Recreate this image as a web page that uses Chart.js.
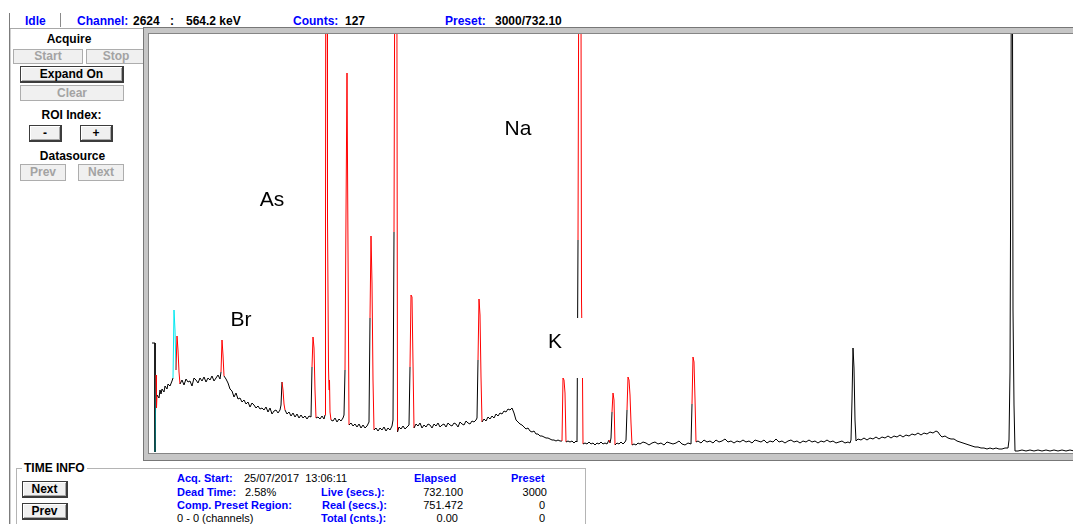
<!DOCTYPE html>
<html>
<head>
<meta charset="utf-8">
<script src="https://cdn.jsdelivr.net/npm/chart.js@4.4.1/dist/chart.umd.min.js"></script>
<style>
  body { margin: 0; width: 1073px; height: 524px; overflow: hidden; background: #fff; position: relative;
         font-family: "Liberation Sans", Arial, sans-serif; }
  .abs { position: absolute; white-space: nowrap; }
  .b12 { font-size: 12px; font-weight: bold; line-height: 14px; }
  .s11 { font-size: 11px; line-height: 13px; }
  .blue { color: #0000ff; font-weight: bold; }
  .btn { position: absolute; box-sizing: border-box; text-align: center; font-size: 12px; font-weight: bold;
         background: #f0f0f0; }
  .on { border: 1px solid #3c3c3c; border-right-width: 2px; border-bottom-width: 2px; color: #000;
        box-shadow: inset 1px 1px #fff, inset -1px -1px #a8a8a8; }
  .off { border: 1px solid #adadad; color: #a3a3a3; }
</style>
</head>
<body>

<!-- status bar -->
<div class="abs" style="left:9px;top:13px;width:1px;height:511px;background:#7c7c7c"></div>
<div class="abs" style="left:10px;top:28px;width:1px;height:496px;background:#cfcfcf"></div>
<div class="abs b12 blue" style="left:25px;top:14px">Idle</div>
<div class="abs" style="left:60px;top:13px;width:1px;height:14px;background:#8a8a8a"></div>
<div class="abs b12 blue" style="left:77px;top:14px">Channel:</div>
<div class="abs b12" style="left:133px;top:14px">2624</div>
<div class="abs b12" style="left:170px;top:14px">:</div>
<div class="abs b12" style="left:186px;top:14px">564.2 keV</div>
<div class="abs b12 blue" style="left:293px;top:14px">Counts:</div>
<div class="abs b12" style="left:345px;top:14px">127</div>
<div class="abs b12 blue" style="left:445px;top:14px">Preset:</div>
<div class="abs b12" style="left:495px;top:14px">3000/732.10</div>

<!-- left panel -->
<div class="abs" style="left:10px;top:28px;width:133px;height:1px;background:#a8a8a8"></div>
<div class="abs b12" style="left:10px;top:32px;width:118px;text-align:center">Acquire</div>
<div class="btn off" style="left:13px;top:49px;width:70px;height:15px;line-height:13px">Start</div>
<div class="btn off" style="left:86px;top:49px;width:60px;height:15px;line-height:13px">Stop</div>
<div class="btn on" style="left:20px;top:66px;width:104px;height:17px;line-height:14px">Expand On</div>
<div class="btn off" style="left:20px;top:85px;width:104px;height:16px;line-height:14px">Clear</div>
<div class="abs b12" style="left:10px;top:108px;width:123px;text-align:center">ROI Index:</div>
<div class="btn on" style="left:29px;top:125px;width:33px;height:17px;line-height:14px">-</div>
<div class="btn on" style="left:80px;top:125px;width:33px;height:17px;line-height:14px">+</div>
<div class="abs b12" style="left:10px;top:149px;width:125px;text-align:center">Datasource</div>
<div class="btn off" style="left:20px;top:164px;width:46px;height:17px;line-height:15px">Prev</div>
<div class="btn off" style="left:78px;top:164px;width:46px;height:17px;line-height:15px">Next</div>

<!-- plot frame -->
<div class="abs" style="left:143px;top:27px;width:1000px;height:434px;box-sizing:border-box;border:1px solid #777;background:#c6c6c6">
  <div class="abs" style="left:4px;top:5px;width:1000px;height:421px;box-sizing:border-box;border:1px solid #858585;background:#fff"></div>
</div>
<canvas id="spectrum" width="1024" height="419" style="position:absolute;left:152px;top:34px"></canvas>

<!-- time info -->
<div class="abs" style="left:16px;top:468px;width:570px;height:70px;box-sizing:border-box;border:1px solid #b4b4b4"></div>
<div class="abs b12" style="left:22px;top:461px;background:#fff;padding:0 2px">TIME INFO</div>
<div class="btn on" style="left:22px;top:481px;width:46px;height:17px;line-height:14px">Next</div>
<div class="btn on" style="left:22px;top:503px;width:46px;height:17px;line-height:14px">Prev</div>

<div class="abs s11 blue" style="left:177px;top:472px">Acq. Start:</div>
<div class="abs s11" style="left:244px;top:472px">25/07/2017&nbsp; 13:06:11</div>
<div class="abs s11 blue" style="left:177px;top:486px">Dead Time:</div>
<div class="abs s11" style="left:245px;top:486px">2.58%</div>
<div class="abs s11 blue" style="left:177px;top:499px">Comp. Preset Region:</div>
<div class="abs s11" style="left:177px;top:512px">0 - 0 (channels)</div>

<div class="abs s11 blue" style="left:414px;top:472px">Elapsed</div>
<div class="abs s11 blue" style="left:511px;top:472px">Preset</div>
<div class="abs s11 blue" style="left:321px;top:486px">Live (secs.):</div>
<div class="abs s11 blue" style="left:322px;top:499px">Real (secs.):</div>
<div class="abs s11 blue" style="left:321px;top:512px">Total (cnts.):</div>
<div class="abs s11" style="left:400px;top:486px;width:63px;text-align:right">732.100</div>
<div class="abs s11" style="left:400px;top:499px;width:63px;text-align:right">751.472</div>
<div class="abs s11" style="left:400px;top:512px;width:58px;text-align:right">0.00</div>
<div class="abs s11" style="left:500px;top:486px;width:47px;text-align:right">3000</div>
<div class="abs s11" style="left:500px;top:499px;width:45px;text-align:right">0</div>
<div class="abs s11" style="left:500px;top:512px;width:45px;text-align:right">0</div>

<script>
// spectrum: channel / counts
const channels = [
  0, 12, 12, 16, 18, 20, 28, 32, 36, 40, 48, 52, 60, 64, 72, 80,
  84, 88, 92, 96, 100, 104, 108, 112,
  120, 128, 136, 144, 152, 160, 168, 176, 184, 192, 200, 208, 216, 224, 232, 240, 248, 256, 264, 272,
  276, 280, 284, 288, 296, 304, 312, 320, 328, 336, 344, 352, 360, 368, 376, 384, 392, 400, 408, 416, 424, 432, 440, 448, 456, 464, 472, 480, 488, 496, 504, 512,
  516, 520, 524, 528, 532, 540, 548, 556, 564, 572, 580, 588, 596, 604, 612, 620, 628, 636,
  640, 644, 648, 652, 656, 664, 672, 680, 688, 692,
  694, 696, 700, 702, 706, 708, 710, 712, 716, 724, 732, 740, 748, 756, 764, 768,
  772, 776, 780, 784, 788, 796, 804, 812, 820, 828, 836, 844, 852, 860, 868,
  872, 876, 880, 884, 888, 896, 904, 912, 920, 928, 936, 944, 952, 960, 964,
  968, 974, 978, 982, 988, 996, 1004, 1012, 1020, 1028,
  1032, 1036, 1040, 1044, 1048,
  1056, 1064, 1072, 1080, 1088, 1096, 1104, 1112, 1120, 1128, 1136, 1144, 1152, 1160, 1168, 1176, 1184, 1192, 1200, 1208, 1216, 1224, 1232, 1240, 1248, 1256, 1264, 1272, 1280, 1288, 1296,
  1300, 1304, 1308, 1312, 1316, 1320,
  1328, 1336, 1344, 1352, 1360, 1368, 1376, 1384, 1392, 1400, 1408, 1416, 1424, 1432, 1440, 1448, 1456, 1464, 1472, 1480, 1488, 1496, 1504, 1512, 1520, 1528, 1536, 1544, 1552, 1560, 1568, 1576, 1584, 1592, 1600, 1608, 1616, 1624, 1632, 1640,
  1644, 1648, 1652, 1656, 1664, 1672, 1680, 1688, 1696, 1700,
  1704, 1710, 1714, 1718, 1722, 1724,
  1732, 1740, 1748, 1756, 1764, 1772, 1780, 1788, 1796, 1804, 1812, 1820,
  1828, 1832, 1836, 1840, 1844, 1848, 1852, 1860, 1868, 1876, 1884, 1892, 1896,
  1900, 1904, 1908, 1912, 1916, 1920, 1928, 1936, 1944,
  1952, 1964, 1976, 1988, 2000, 2012, 2024, 2036, 2048, 2060, 2072, 2084, 2096, 2108, 2120, 2132, 2144, 2156,
  2160, 2164, 2168, 2172, 2176,
  2184, 2196, 2208, 2220, 2232, 2244, 2256, 2268, 2280, 2292, 2304, 2316, 2328, 2340, 2352, 2364, 2376, 2388, 2400, 2412,
  2424, 2436, 2448, 2460, 2472, 2484, 2496, 2508, 2520, 2532, 2544, 2556, 2568, 2580, 2592, 2604, 2616, 2628, 2640, 2652,
  2664, 2676, 2688, 2700, 2712, 2724, 2736, 2748, 2760, 2772, 2784, 2792,
  2796, 2800, 2804, 2808, 2812, 2816,
  2824, 2836, 2848, 2860, 2872, 2884, 2896, 2908, 2920, 2932, 2944, 2956, 2968, 2980, 2992, 3004, 3016, 3028, 3040, 3052,
  3064, 3076, 3088, 3100, 3112, 3124, 3136, 3144, 3152, 3160, 3172, 3184, 3196, 3208, 3220, 3232, 3244, 3256, 3268, 3280,
  3292, 3304, 3316, 3328, 3340, 3352, 3364, 3376, 3388, 3400, 3412, 3424,
  3428, 3432, 3436, 3440, 3444, 3448, 3452,
  3464, 3480, 3496, 3512, 3528, 3544, 3560, 3576, 3592, 3608, 3624, 3640, 3656, 3672, 3688, 3712, 3800, 3900, 4000, 4096
];
const counts = [
  1320, 1320, 12, 936, 540, 696, 660, 756, 708, 768, 732, 804, 768, 828, 804, 864,
  900, 1716, 1476, 996, 1404, 1236, 972, 828,
  876, 816, 888, 852, 864, 804, 900, 876, 840, 900, 864, 912, 852, 900, 876, 924, 864, 900, 936, 888,
  972, 1356, 1176, 924, 888, 840, 768, 744, 672, 720, 648, 660, 612, 636, 588, 612, 552, 600, 576, 540, 564, 528, 540, 516, 552, 492, 540, 468, 504, 516, 480, 516,
  576, 852, 756, 588, 516, 468, 492, 444, 480, 432, 468, 420, 456, 420, 444, 408, 444, 432,
  1032, 1392, 1260, 756, 420, 432, 408, 444, 408, 456,
  2820, 9000, 9000, 2820, 1032, 756, 876, 492, 396, 384, 420, 372, 408, 384, 420, 456,
  996, 2880, 4560, 2436, 336, 360, 324, 348, 312, 348, 300, 336, 300, 324, 372,
  1620, 2604, 2040, 876, 276, 300, 264, 300, 276, 312, 264, 300, 276, 324, 396,
  2652, 9000, 9000, 252, 312, 288, 324, 288, 312, 336,
  1032, 1896, 1872, 1080, 300,
  348, 324, 360, 300, 336, 312, 348, 336, 300, 348, 324, 360, 312, 336, 348, 312, 360, 336, 324, 360, 348, 312, 372, 348, 336, 384, 360, 348, 384, 372, 396,
  420, 1116, 1848, 1656, 912, 372,
  408, 384, 432, 408, 444, 420, 468, 444, 480, 468, 504, 492, 528, 516, 540, 480, 396, 372, 348, 336, 312, 288, 300, 264, 252, 264, 228, 228, 204, 204, 192, 180, 180, 168, 156, 156, 144, 156, 144, 144,
  900, 876, 720, 132, 144, 132, 144, 120, 144, 132,
  2556, 9000, 9000, 1836, 900, 108,
  120, 108, 132, 108, 120, 96, 120, 108, 132, 108, 120, 108,
  156, 120, 180, 492, 720, 636, 96, 120, 108, 132, 108, 132, 156,
  516, 912, 876, 696, 360, 96, 108, 96, 120,
  108, 132, 120, 96, 120, 132, 108, 120, 96, 132, 120, 108, 120, 144, 108, 96, 120, 108,
  588, 1152, 1092, 648, 132,
  144, 120, 156, 132, 144, 120, 156, 132, 144, 168, 132, 144, 120, 144, 132, 156, 132, 144, 120, 156,
  144, 132, 156, 120, 144, 132, 168, 132, 144, 120, 144, 156, 132, 144, 120, 144, 132, 156, 132, 144,
  120, 144, 132, 156, 132, 144, 120, 132, 144, 120, 132, 120,
  156, 636, 1260, 1020, 396, 144,
  168, 156, 180, 156, 180, 168, 192, 168, 192, 180, 204, 180, 204, 192, 216, 192, 216, 204, 228, 216,
  240, 216, 240, 228, 252, 240, 264, 252, 216, 192, 204, 180, 168, 168, 144, 132, 120, 108, 96, 84,
  72, 72, 60, 60, 48, 60, 48, 60, 48, 48, 60, 60,
  156, 972, 4296, 9000, 1716, 576, 24,
  24, 36, 24, 36, 24, 36, 24, 36, 24, 36, 24, 36, 24, 36, 24, 30, 28, 30, 26, 28
];

// regions of interest (channel ranges) and their colours
const roiFrom  = [12, 16, 84, 96, 276, 520, 640, 692, 772, 872, 968, 1032, 1304, 1640, 1704, 1828, 1840, 1900, 2160];
const roiTo    = [16, 20, 96, 112, 288, 532, 656, 716, 788, 888, 982, 1048, 1320, 1656, 1724, 1832, 1852, 1920, 2176];
const roiColor = ['#008080', '#ff0000', '#00e8f0', '#ff0000', '#ff0000', '#ff0000', '#ff0000', '#ff0000', '#ff0000', '#ff0000',
                  '#ff0000', '#ff0000', '#ff0000', '#ff0000', '#ff0000', '#ff0000', '#ff0000', '#ff0000', '#ff0000'];

// element labels (channel, counts)
const peakNames    = ['Br', 'As', 'Na', 'K'];
const peakChannels = [356, 480, 1464, 1612];
const peakCounts   = [1596, 3036, 3888, 1332];
const peakBoxed    = [false, false, false, true];

function roiColour(ctx) {
    const a = ctx.p0.parsed.x, b = ctx.p1.parsed.x;
    for (let i = 0; i < roiFrom.length; i++) {
        if (a < b && a >= roiFrom[i] && b <= roiTo[i]) return roiColor[i];
    }
    return '#000000';
}

const peakLabels = {
    id: 'peakLabels',
    afterDatasetsDraw(chart) {
        const c = chart.ctx, xs = chart.scales.x, ys = chart.scales.y;
        c.save();
        c.font = '21px "Liberation Sans", Arial, sans-serif';
        c.textAlign = 'center';
        c.textBaseline = 'middle';
        peakNames.forEach((name, i) => {
            const px = xs.getPixelForValue(peakChannels[i]);
            const py = ys.getPixelForValue(peakCounts[i]);
            if (peakBoxed[i]) {
                c.fillStyle = '#ffffff';
                c.fillRect(px - 26, py - 24, 54, 60);
            }
            c.fillStyle = '#000000';
            c.fillText(name, px, py);
        });
        c.restore();
    }
};

const points = channels.map((ch, i) => ({ x: ch, y: counts[i] }));

new Chart(document.getElementById('spectrum'), {
    type: 'line',
    data: {
        datasets: [{
            data: points,
            borderColor: '#000000',
            borderWidth: 1,
            pointRadius: 0,
            tension: 0,
            segment: { borderColor: roiColour }
        }]
    },
    options: {
        responsive: false,
        animation: false,
        layout: { padding: 0 },
        plugins: { legend: { display: false }, tooltip: { enabled: false } },
        scales: {
            x: { type: 'linear', display: false, min: 0, max: 4096 },
            y: { display: false, min: 0, max: 5028 }
        }
    },
    plugins: [peakLabels]
});
</script>
</body>
</html>
